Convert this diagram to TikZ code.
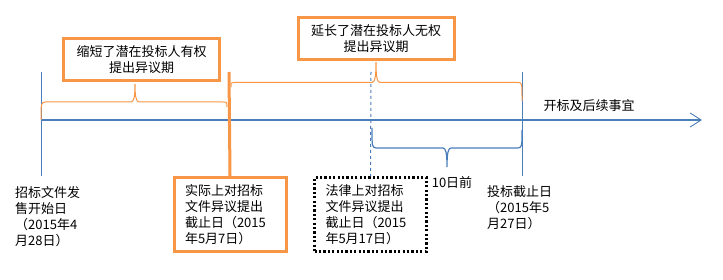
\documentclass[tikz,border=0pt]{standalone}
\usepackage{fontspec}
\setmainfont{Noto Sans CJK SC}
\usetikzlibrary{arrows.meta,positioning}
\definecolor{lineblue}{HTML}{4A7EBB}
\definecolor{markorange}{HTML}{F79646}

\begin{document}
\begin{tikzpicture}[
  font=\fontsize{13pt}{16pt}\selectfont,
  x=1pt,
  y=-1pt,
  callout/.style={draw=markorange, line width=3pt, align=center,
    minimum width=156pt, minimum height=42pt, inner sep=2pt},
  datebox/.style={align=left, minimum height=74pt, inner ysep=2pt,
    inner xsep=11pt, text width=90pt},
  realbox/.style={datebox, draw=markorange, line width=3pt},
  lawbox/.style={datebox, draw=black, line width=2.2pt,
    dash pattern=on 2.2pt off 2.2pt},
  note/.style={align=left, inner sep=0pt, anchor=north west},
  timeline/.style={lineblue, line width=1.1pt,
    -{Straight Barb[length=11pt,width=14pt,line width=0.9pt]}},
  tick/.style={lineblue, line width=1pt},
  orangebrace/.style={markorange, line width=1pt},
  bluebrace/.style={lineblue, line width=1.2pt}
]
  \useasboundingbox (0,0) rectangle (723,280);

  % time axis
  \coordinate (t0) at (41,120);
  \coordinate (tend) at (702,120);
  \draw[timeline] (t0) -- (tend);
  \node (follow) at (589,106) {开标及后续事宜};

  % callouts above the axis
  \node[callout] (shorter) at (141.5,60) {缩短了潜在投标人有权\\提出异议期};
  \node[callout] (longer) at (376,39) {延长了潜在投标人无权\\提出异议期};

  % date boxes below the axis
  \node[realbox] (actual) at (230,214.5)
    {实际上对招标\\文件异议提出\\截止日（2015\\年5月7日）};
  \node[lawbox] (legal) at (370.5,214.5)
    {法律上对招标\\文件异议提出\\截止日（2015\\年5月17日）};
  \node[note] (salestart) at (15,186.5)
    {招标文件发\\售开始日\\（2015年4\\月28日）};
  \node[note] (biddue) at (487,185.5) {投标截止日\\（2015年5\\月27日）};
  \node (tendays) at (452,183) {10日前};

  % marks on the axis
  \coordinate (saletop) at (41,72);
  \coordinate (salebot) at (41,176);
  \coordinate (duetop) at (522,72);
  \coordinate (duebot) at (522,176);
  \draw[tick] (saletop) -- (salebot);
  \draw[tick] (duetop) -- (duebot);
  \draw[lineblue, line width=1pt, dashed] (371,72) -- (legal.north);
  \draw[markorange, line width=3pt] (229,72) -- (actual.north);

  % braces
  \draw[orangebrace] (41,120) .. controls (41,103) .. (45,102) -- (131,102)
    .. controls (134,102) and (135,96) .. (135,84)
    .. controls (135,96) and (136,102) .. (139,102) -- (223,102)
    .. controls (227,102) .. (227,107);
  \draw[orangebrace] (231,87) .. controls (231,82.5) .. (234,82.5) -- (372,82.5)
    .. controls (375,82.5) and (376,76) .. (376,62)
    .. controls (376,76) and (377,82.5) .. (380,82.5) -- (518,82.5)
    .. controls (522,82.5) .. (522,101);
  \draw[bluebrace] (372,128) .. controls (372,147) .. (376,148) -- (443,148)
    .. controls (446,148) and (447,154) .. (447,167)
    .. controls (447,154) and (448,148) .. (451,148) -- (518,148)
    .. controls (522,147) .. (522,130);
\end{tikzpicture}
\end{document}
